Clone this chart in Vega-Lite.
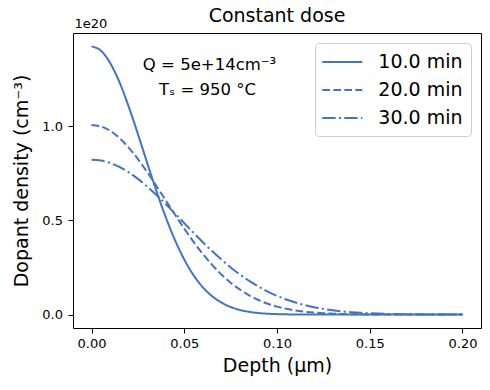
{
  "$schema": "https://vega.github.io/schema/vega-lite/v6.json",
  "width": 408,
  "height": 295,
  "autosize": {"type": "none"},
  "padding": {"left": 73, "top": 33, "right": 9, "bottom": 62},
  "background": "white",
  "config": {
    "font": "DejaVu Sans",
    "view": {"stroke": "black", "strokeWidth": 1},
    "axis": {"grid": false, "domain": false, "tickColor": "black", "tickSize": 5, "labelFontSize": 13, "labelColor": "black", "titleFontSize": 19, "titleFontWeight": "normal", "titleColor": "black", "labelFont": "DejaVu Sans", "titleFont": "DejaVu Sans"}
  },
  "title": {"text": "Constant dose", "fontSize": 19, "fontWeight": "normal", "font": "DejaVu Sans", "offset": 0, "dy": 8, "color": "black"},
  "data": {"values": [
    {"depth": 0.0, "density": 1.4225, "time": "10.0 min"},
    {"depth": 0.005, "density": 1.4, "time": "10.0 min"},
    {"depth": 0.01, "density": 1.335, "time": "10.0 min"},
    {"depth": 0.015, "density": 1.234, "time": "10.0 min"},
    {"depth": 0.02, "density": 1.104, "time": "10.0 min"},
    {"depth": 0.025, "density": 0.958, "time": "10.0 min"},
    {"depth": 0.03, "density": 0.805, "time": "10.0 min"},
    {"depth": 0.035, "density": 0.655, "time": "10.0 min"},
    {"depth": 0.04, "density": 0.517, "time": "10.0 min"},
    {"depth": 0.045, "density": 0.395, "time": "10.0 min"},
    {"depth": 0.05, "density": 0.292, "time": "10.0 min"},
    {"depth": 0.055, "density": 0.209, "time": "10.0 min"},
    {"depth": 0.06, "density": 0.145, "time": "10.0 min"},
    {"depth": 0.065, "density": 0.098, "time": "10.0 min"},
    {"depth": 0.07, "density": 0.0639, "time": "10.0 min"},
    {"depth": 0.075, "density": 0.0404, "time": "10.0 min"},
    {"depth": 0.08, "density": 0.0247, "time": "10.0 min"},
    {"depth": 0.085, "density": 0.0147, "time": "10.0 min"},
    {"depth": 0.09, "density": 0.0084, "time": "10.0 min"},
    {"depth": 0.095, "density": 0.0047, "time": "10.0 min"},
    {"depth": 0.1, "density": 0.0025, "time": "10.0 min"},
    {"depth": 0.11, "density": 0.0007, "time": "10.0 min"},
    {"depth": 0.12, "density": 0.0002, "time": "10.0 min"},
    {"depth": 0.13, "density": 0.0, "time": "10.0 min"},
    {"depth": 0.15, "density": 0.0, "time": "10.0 min"},
    {"depth": 0.2, "density": 0.0, "time": "10.0 min"},
    {"depth": 0.0, "density": 1.006, "time": "20.0 min"},
    {"depth": 0.005, "density": 0.998, "time": "20.0 min"},
    {"depth": 0.01, "density": 0.975, "time": "20.0 min"},
    {"depth": 0.015, "density": 0.937, "time": "20.0 min"},
    {"depth": 0.02, "density": 0.886, "time": "20.0 min"},
    {"depth": 0.025, "density": 0.825, "time": "20.0 min"},
    {"depth": 0.03, "density": 0.756, "time": "20.0 min"},
    {"depth": 0.035, "density": 0.682, "time": "20.0 min"},
    {"depth": 0.04, "density": 0.606, "time": "20.0 min"},
    {"depth": 0.045, "density": 0.53, "time": "20.0 min"},
    {"depth": 0.05, "density": 0.456, "time": "20.0 min"},
    {"depth": 0.055, "density": 0.386, "time": "20.0 min"},
    {"depth": 0.06, "density": 0.322, "time": "20.0 min"},
    {"depth": 0.065, "density": 0.264, "time": "20.0 min"},
    {"depth": 0.07, "density": 0.213, "time": "20.0 min"},
    {"depth": 0.075, "density": 0.169, "time": "20.0 min"},
    {"depth": 0.08, "density": 0.133, "time": "20.0 min"},
    {"depth": 0.085, "density": 0.102, "time": "20.0 min"},
    {"depth": 0.09, "density": 0.0773, "time": "20.0 min"},
    {"depth": 0.095, "density": 0.0577, "time": "20.0 min"},
    {"depth": 0.1, "density": 0.0424, "time": "20.0 min"},
    {"depth": 0.105, "density": 0.0306, "time": "20.0 min"},
    {"depth": 0.11, "density": 0.0218, "time": "20.0 min"},
    {"depth": 0.115, "density": 0.0153, "time": "20.0 min"},
    {"depth": 0.12, "density": 0.0105, "time": "20.0 min"},
    {"depth": 0.125, "density": 0.0071, "time": "20.0 min"},
    {"depth": 0.13, "density": 0.0048, "time": "20.0 min"},
    {"depth": 0.14, "density": 0.002, "time": "20.0 min"},
    {"depth": 0.15, "density": 0.0008, "time": "20.0 min"},
    {"depth": 0.16, "density": 0.0003, "time": "20.0 min"},
    {"depth": 0.17, "density": 0.0001, "time": "20.0 min"},
    {"depth": 0.18, "density": 0.0, "time": "20.0 min"},
    {"depth": 0.2, "density": 0.0, "time": "20.0 min"},
    {"depth": 0.0, "density": 0.821, "time": "30.0 min"},
    {"depth": 0.005, "density": 0.817, "time": "30.0 min"},
    {"depth": 0.01, "density": 0.804, "time": "30.0 min"},
    {"depth": 0.015, "density": 0.783, "time": "30.0 min"},
    {"depth": 0.02, "density": 0.755, "time": "30.0 min"},
    {"depth": 0.025, "density": 0.72, "time": "30.0 min"},
    {"depth": 0.03, "density": 0.679, "time": "30.0 min"},
    {"depth": 0.035, "density": 0.634, "time": "30.0 min"},
    {"depth": 0.04, "density": 0.586, "time": "30.0 min"},
    {"depth": 0.045, "density": 0.536, "time": "30.0 min"},
    {"depth": 0.05, "density": 0.485, "time": "30.0 min"},
    {"depth": 0.055, "density": 0.434, "time": "30.0 min"},
    {"depth": 0.06, "density": 0.384, "time": "30.0 min"},
    {"depth": 0.065, "density": 0.337, "time": "30.0 min"},
    {"depth": 0.07, "density": 0.292, "time": "30.0 min"},
    {"depth": 0.075, "density": 0.25, "time": "30.0 min"},
    {"depth": 0.08, "density": 0.213, "time": "30.0 min"},
    {"depth": 0.085, "density": 0.179, "time": "30.0 min"},
    {"depth": 0.09, "density": 0.149, "time": "30.0 min"},
    {"depth": 0.095, "density": 0.122, "time": "30.0 min"},
    {"depth": 0.1, "density": 0.0995, "time": "30.0 min"},
    {"depth": 0.105, "density": 0.0801, "time": "30.0 min"},
    {"depth": 0.11, "density": 0.0638, "time": "30.0 min"},
    {"depth": 0.115, "density": 0.0503, "time": "30.0 min"},
    {"depth": 0.12, "density": 0.0393, "time": "30.0 min"},
    {"depth": 0.125, "density": 0.0303, "time": "30.0 min"},
    {"depth": 0.13, "density": 0.0232, "time": "30.0 min"},
    {"depth": 0.135, "density": 0.0175, "time": "30.0 min"},
    {"depth": 0.14, "density": 0.0131, "time": "30.0 min"},
    {"depth": 0.145, "density": 0.0097, "time": "30.0 min"},
    {"depth": 0.15, "density": 0.0071, "time": "30.0 min"},
    {"depth": 0.16, "density": 0.0037, "time": "30.0 min"},
    {"depth": 0.17, "density": 0.0018, "time": "30.0 min"},
    {"depth": 0.18, "density": 0.0009, "time": "30.0 min"},
    {"depth": 0.19, "density": 0.0004, "time": "30.0 min"},
    {"depth": 0.2, "density": 0.0002, "time": "30.0 min"}
  ]},
  "layer": [
    {
      "mark": {"type": "line", "strokeWidth": 2, "color": "#4472c4", "interpolate": "monotone"},
      "encoding": {
        "x": {"field": "depth", "type": "quantitative", "scale": {"domain": [-0.01, 0.21], "nice": false, "zero": false},
              "axis": {"values": [0, 0.05, 0.1, 0.15, 0.2], "format": ".2f", "title": "Depth (μm)", "labelPadding": 4, "titlePadding": 6}},
        "y": {"field": "density", "type": "quantitative", "scale": {"domain": [-0.0711, 1.4936], "nice": false, "zero": false},
              "axis": {"values": [0, 0.5, 1.0], "format": ".1f", "title": "Dopant density (cm⁻³)", "labelPadding": 5.5, "titlePadding": 10}},
        "strokeDash": {"field": "time", "type": "nominal",
          "scale": {"domain": ["10.0 min", "20.0 min", "30.0 min"], "range": [[1, 0], [7.7, 3.3], [13.3, 3.3, 2.1, 3.3]]},
          "legend": {"title": null, "orient": "top-right", "offset": 10, "labelFontSize": 19, "labelFont": "DejaVu Sans", "labelColor": "black",
                     "symbolType": "M-2,0H2", "symbolSize": 400, "symbolOffset": 8.3, "symbolFillColor": "transparent", "symbolStrokeColor": "#4472c4", "symbolStrokeWidth": 2,
                     "strokeColor": "#cccccc", "fillColor": "white", "cornerRadius": 4, "padding": 8, "rowPadding": 7, "labelOffset": 25}},
        "detail": {"field": "time"}
      }
    },
    {
      "data": {"values": [{"lx": 0.0636, "ly": 1.325, "label": "Q = 5e+14cm⁻³"}, {"lx": 0.0625, "ly": 1.19, "label": "Tₛ = 950 °C"}]},
      "mark": {"type": "text", "fontSize": 16.5, "font": "DejaVu Sans", "color": "black", "align": "center", "baseline": "middle"},
      "encoding": {
        "x": {"field": "lx", "type": "quantitative"},
        "y": {"field": "ly", "type": "quantitative"},
        "text": {"field": "label"}
      }
    },
    {
      "data": {"values": [{"tx": -0.01, "ty": 1.4936, "t": "1e20"}]},
      "mark": {"type": "text", "fontSize": 13, "font": "DejaVu Sans", "color": "black", "align": "left", "baseline": "alphabetic", "dx": 1.5, "dy": -5},
      "encoding": {
        "x": {"field": "tx", "type": "quantitative"},
        "y": {"field": "ty", "type": "quantitative"},
        "text": {"field": "t"}
      }
    }
  ]
}
